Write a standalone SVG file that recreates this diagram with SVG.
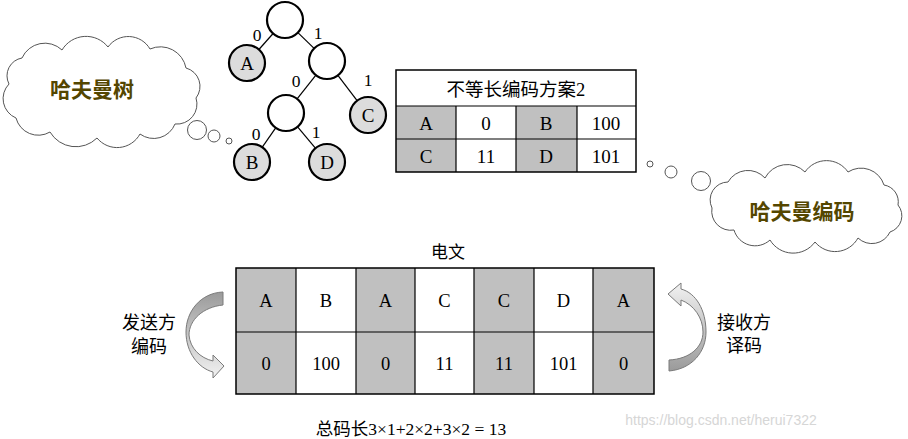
<svg xmlns="http://www.w3.org/2000/svg" width="908" height="439" viewBox="0 0 908 439">
<style>
.serif{font-family:"Liberation Serif","Noto Sans CJK SC",serif;fill:#000;text-anchor:middle}
.cloud{fill:#fff;stroke:#555;stroke-width:1}
.ctext{font-family:"Noto Sans CJK SC",sans-serif;font-weight:bold;font-size:21px;fill:#544600;text-anchor:middle}
.nd{stroke:#000;stroke-width:2.2}
.leaf{fill:#dcdcdc}
.inner{fill:#fff}
.edge{stroke:#000;stroke-width:1.2;fill:none}
.g{fill:#c0c0c0}
.w{fill:#fff}
.grid{stroke:#000;stroke-width:1.2;fill:none}
.bub{fill:#fff;stroke:#555;stroke-width:1}
</style>
<defs>
<linearGradient id="gl" x1="0" y1="0" x2="0" y2="1">
<stop offset="0" stop-color="#9a9a9a"/><stop offset="1" stop-color="#f2f2f2"/>
</linearGradient>
<linearGradient id="gr" x1="0" y1="0" x2="0" y2="1">
<stop offset="0" stop-color="#f2f2f2"/><stop offset="1" stop-color="#9a9a9a"/>
</linearGradient>
</defs>
<rect width="908" height="439" fill="#fff"/>

<g id="cloud-tree">
<path class="cloud" d="M9,84 A18,18 0 0 1 22,58 A25,25 0 0 1 62,50 A28,28 0 0 1 108,47 A25,25 0 0 1 150,49 A26,26 0 0 1 186,68 A19,19 0 0 1 196,98 A20,20 0 0 1 175,124 A23,23 0 0 1 140,134 A26,26 0 0 1 97,138 A30,30 0 0 1 50,132 A23,23 0 0 1 16,118 A21,21 0 0 1 9,84 Z"/>
<circle class="bub" cx="197" cy="130" r="9.5"/>
<circle class="bub" cx="214" cy="136" r="6"/>
<circle class="bub" cx="229" cy="141" r="3"/>
<text class="ctext" x="92" y="97">哈夫曼树</text>
</g>

<g id="cloud-code">
<path class="cloud" d="M712,208 A18,18 0 0 1 728,182 A23,23 0 0 1 765,178 A25,25 0 0 1 805,172 A26,26 0 0 1 848,172 A24,24 0 0 1 884,185 A17,17 0 0 1 898,205 A17,17 0 0 1 890,232 A20,20 0 0 1 858,238 A26,26 0 0 1 815,242 A27,27 0 0 1 770,240 A22,22 0 0 1 734,230 A19,19 0 0 1 712,208 Z"/>
<circle class="bub" cx="650" cy="164" r="3"/>
<circle class="bub" cx="671" cy="172" r="6"/>
<circle class="bub" cx="701" cy="181" r="9.5"/>
<text class="ctext" x="802" y="219">哈夫曼编码</text>
</g>

<g id="connectors">
<line class="edge" x1="273.1" y1="33.5" x2="258.9" y2="49.5"/>
<line class="edge" x1="297.9" y1="32.6" x2="314.1" y2="48.4"/>
<line class="edge" x1="315.9" y1="75.1" x2="297.1" y2="98.9"/>
<line class="edge" x1="337.9" y1="75.3" x2="357.1" y2="100.7"/>
<line class="edge" x1="275.7" y1="127.8" x2="262.3" y2="147.2"/>
<line class="edge" x1="297.6" y1="126.8" x2="315.4" y2="148.2"/>
<g class="serif" font-size="17.5">
<text x="257" y="41">0</text>
<text x="318" y="39">1</text>
<text x="296" y="87">0</text>
<text x="368" y="86">1</text>
<text x="256" y="140">0</text>
<text x="316" y="138">1</text>
</g>
</g>

<g id="node-root"><circle class="nd inner" cx="285" cy="20" r="18"/></g>
<g id="node-A"><circle class="nd leaf" cx="247" cy="63" r="18"/><text class="serif" font-size="19" x="247" y="69.5">A</text></g>
<g id="node-1"><circle class="nd inner" cx="327" cy="61" r="18"/></g>
<g id="node-10"><circle class="nd inner" cx="286" cy="113" r="18"/></g>
<g id="node-C"><circle class="nd leaf" cx="368" cy="115" r="18"/><text class="serif" font-size="19" x="368" y="121.5">C</text></g>
<g id="node-B"><circle class="nd leaf" cx="252" cy="162" r="18"/><text class="serif" font-size="19" x="252" y="168.5">B</text></g>
<g id="node-D"><circle class="nd leaf" cx="327" cy="162" r="18"/><text class="serif" font-size="19" x="327" y="168.5">D</text></g>

<g id="code-table">
<rect class="w" x="396" y="70" width="240" height="36"/>
<rect class="g" x="396" y="106" width="60" height="66"/>
<rect class="w" x="456" y="106" width="60" height="66"/>
<rect class="g" x="516" y="106" width="61" height="66"/>
<rect class="w" x="577" y="106" width="59" height="66"/>
<path class="grid" d="M396,106 H636 M396,139 H636 M456,106 V172 M516,106 V172 M577,106 V172"/>
<rect x="396" y="70" width="240" height="102" fill="none" stroke="#000" stroke-width="1.5"/>
<text class="serif" font-size="18.5" x="516" y="96">不等长编码方案2</text>
<g class="serif" font-size="19">
<text x="426" y="129.5">A</text><text x="486" y="129.5">0</text><text x="546" y="129.5">B</text><text x="606" y="129.5">100</text>
<text x="426" y="162.5">C</text><text x="486" y="162.5">11</text><text x="546" y="162.5">D</text><text x="606" y="162.5">101</text>
</g>
</g>

<g id="message">
<text class="serif" font-size="17" x="448" y="258">电文</text>
<rect class="g" x="236" y="268" width="60" height="126"/>
<rect class="w" x="296" y="268" width="60" height="126"/>
<rect class="g" x="356" y="268" width="59" height="126"/>
<rect class="w" x="415" y="268" width="59" height="126"/>
<rect class="g" x="474" y="268" width="60" height="126"/>
<rect class="w" x="534" y="268" width="59" height="126"/>
<rect class="g" x="593" y="268" width="61" height="126"/>
<path class="grid" d="M236,332 H654 M296,268 V394 M356,268 V394 M415,268 V394 M474,268 V394 M534,268 V394 M593,268 V394"/>
<rect x="236" y="268" width="418" height="126" fill="none" stroke="#000" stroke-width="1.5"/>
<g class="serif" font-size="18.5">
<text x="266" y="306.5">A</text><text x="326" y="306.5">B</text><text x="385.5" y="306.5">A</text><text x="444.5" y="306.5">C</text><text x="504" y="306.5">C</text><text x="563.5" y="306.5">D</text><text x="623.5" y="306.5">A</text>
<text x="266" y="369.5">0</text><text x="326" y="369.5">100</text><text x="385.5" y="369.5">0</text><text x="444.5" y="369.5">11</text><text x="504" y="369.5">11</text><text x="563.5" y="369.5">101</text><text x="623.5" y="369.5">0</text>
</g>
</g>

<g id="encode">
<path d="M223,292 C200,293 186,312 186,332 C186,352 198,368 213,372 L213,378 L224,366 L213,355 L213,361 C200,358 190,348 189,335 C189,320 203,307 223,305 Z" fill="url(#gl)" stroke="#7a7a7a" stroke-width="1"/>
<text class="serif" font-size="18" x="149" y="329">发送方</text>
<text class="serif" font-size="18" x="149" y="353">编码</text>
</g>

<g id="decode">
<path d="M669,371 C692,369 706,352 706,332 C706,310 696,293 681,289 L681,283 L668,294 L681,306 L681,300 C694,305 703,318 703,332 C703,347 690,359 669,360 Z" fill="url(#gr)" stroke="#7a7a7a" stroke-width="1"/>
<text class="serif" font-size="18" x="744" y="329">接收方</text>
<text class="serif" font-size="18" x="744" y="352">译码</text>
</g>

<text class="serif" font-size="17.5" x="411" y="435">总码长3×1+2×2+3×2 = 13</text>
<text x="721" y="425" font-family="Liberation Sans, sans-serif" font-size="14" fill="#d6d6d6" text-anchor="middle">https://blog.csdn.net/herui7322</text>
</svg>
